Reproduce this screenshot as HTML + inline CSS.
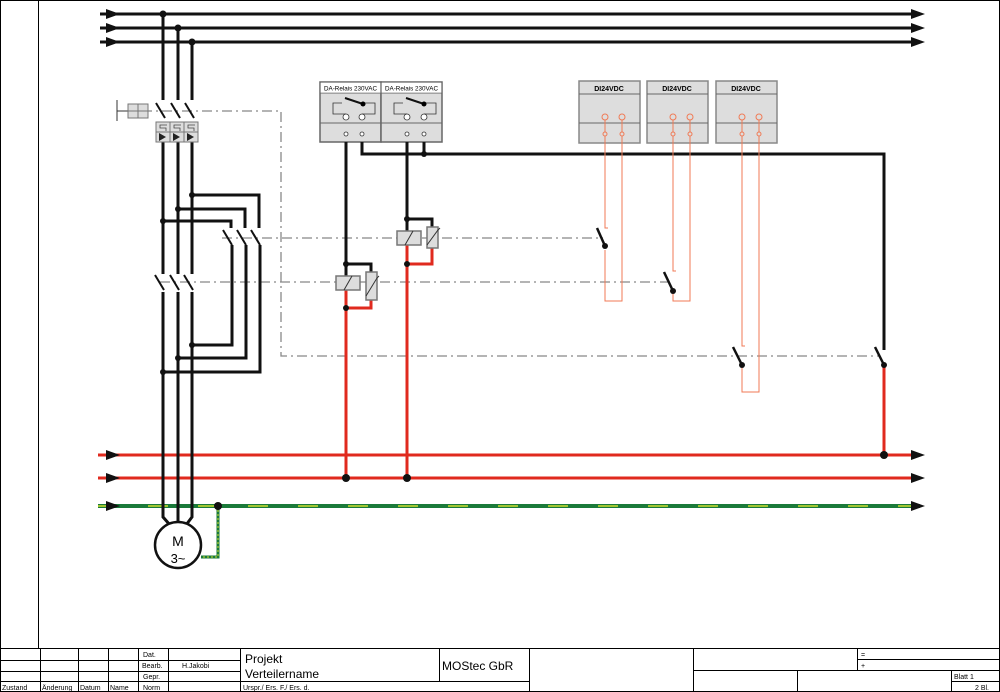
<!DOCTYPE html>
<html><head><meta charset="utf-8"><style>body{margin:0;background:#fff}svg{display:block}text{font-family:"Liberation Sans",sans-serif}</style></head><body>
<svg width="1000" height="692" viewBox="0 0 1000 692" xmlns="http://www.w3.org/2000/svg">
<rect x="0.5" y="0.5" width="999" height="691" fill="none" stroke="#000"/>
<line x1="38.5" y1="0" x2="38.5" y2="648" stroke="#000"/>
<!-- top buses -->
<g stroke="#111" stroke-width="3">
<line x1="100" y1="14" x2="920" y2="14"/><line x1="100" y1="28" x2="920" y2="28"/><line x1="100" y1="42" x2="920" y2="42"/>
</g>
<g fill="#111">
<polygon points="106,9 120,14 106,19"/><polygon points="106,23 120,28 106,33"/><polygon points="106,37 120,42 106,47"/>
<polygon points="911,9 925,14 911,19"/><polygon points="911,23 925,28 911,33"/><polygon points="911,37 925,42 911,47"/>
<circle cx="163" cy="14" r="3.5"/><circle cx="178" cy="28" r="3.5"/><circle cx="192" cy="42" r="3.5"/>
</g>
<!-- red/green buses -->
<line x1="98" y1="455" x2="920" y2="455" stroke="#e02a1e" stroke-width="3"/>
<line x1="98" y1="478" x2="920" y2="478" stroke="#e02a1e" stroke-width="3"/>
<line x1="98" y1="506" x2="920" y2="506" stroke="#1a7a3a" stroke-width="4"/>
<line x1="98" y1="506" x2="920" y2="506" stroke="#cde030" stroke-width="1.5" stroke-dasharray="20 30"/>
<g fill="#111">
<polygon points="106,450 120,455 106,460"/><polygon points="106,473 120,478 106,483"/><polygon points="106,501 120,506 106,511"/>
<polygon points="911,450 925,455 911,460"/><polygon points="911,473 925,478 911,483"/><polygon points="911,501 925,506 911,511"/>
</g>
<!-- dashed mechanical links -->
<g stroke="#888" stroke-width="1.3" fill="none" stroke-dasharray="10 4 2 4">
<polyline points="142,111 281,111 281,356 880,356"/>
<line x1="222" y1="238" x2="603" y2="238"/>
<line x1="160" y1="282" x2="668" y2="282"/>
</g>
<!-- main vertical lines -->
<g stroke="#111" stroke-width="3" fill="none">
<line x1="163" y1="14" x2="163" y2="100"/><line x1="178" y1="28" x2="178" y2="100"/><line x1="192" y1="42" x2="192" y2="100"/>
<line x1="163" y1="142" x2="163" y2="274"/><line x1="178" y1="142" x2="178" y2="274"/><line x1="192" y1="142" x2="192" y2="274"/>
<polyline points="163,292 163,517 170,525"/><line x1="178" y1="292" x2="178" y2="522"/><polyline points="192,292 192,517 186,525"/>
<polyline points="192,195 259,195 259,228"/><polyline points="178,209 245,209 245,228"/><polyline points="163,221 231,221 231,228"/>
<polyline points="232,245 232,345 192,345"/><polyline points="246,245 246,358 178,358"/><polyline points="260,245 260,372 163,372"/>
</g>
<g stroke="#111" stroke-width="2">
<line x1="156" y1="103" x2="165" y2="118"/><line x1="171" y1="103" x2="180" y2="118"/><line x1="185" y1="103" x2="194" y2="118"/>
<line x1="155" y1="275" x2="164" y2="290"/><line x1="170" y1="275" x2="179" y2="290"/><line x1="184" y1="275" x2="193" y2="290"/>
<line x1="223" y1="230" x2="232" y2="245"/><line x1="237" y1="230" x2="246" y2="245"/><line x1="251" y1="230" x2="260" y2="245"/>
</g>
<!-- breaker handle -->
<line x1="117" y1="100" x2="117" y2="121" stroke="#333"/><line x1="117" y1="111" x2="128" y2="111" stroke="#333"/>
<rect x="128" y="104" width="20" height="14" fill="#ddd" stroke="#777"/><line x1="138" y1="104" x2="138" y2="118" stroke="#777"/><line x1="128" y1="111" x2="148" y2="111" stroke="#777"/>
<g fill="#ddd" stroke="#777">
<rect x="156" y="122" width="14" height="20"/><rect x="170" y="122" width="14" height="20"/><rect x="184" y="122" width="14" height="20"/>
<line x1="156" y1="132" x2="198" y2="132"/>
</g>
<g stroke="#444" fill="none" stroke-width="0.8">
<polyline points="167,125 160,125 160,128 166,128 166,131"/><polyline points="181,125 174,125 174,128 180,128 180,131"/><polyline points="195,125 188,125 188,128 194,128 194,131"/>
</g>
<g fill="#222"><polygon points="159,133 166,137 159,141"/><polygon points="173,133 180,137 173,141"/><polygon points="187,133 194,137 187,141"/></g>
<g fill="#111">
<circle cx="192" cy="195" r="3"/><circle cx="178" cy="209" r="3"/><circle cx="163" cy="221" r="3"/>
<circle cx="192" cy="345" r="3"/><circle cx="178" cy="358" r="3"/><circle cx="163" cy="372" r="3"/>
</g>
<!-- motor -->
<circle cx="178" cy="545" r="23" fill="#fff" stroke="#111" stroke-width="2.5"/>
<text x="178" y="546" font-size="14" text-anchor="middle">M</text>
<text x="178" y="563" font-size="13" text-anchor="middle">3~</text>
<polyline points="218,506 218,557 201,557" fill="none" stroke="#1a7a3a" stroke-width="3"/>
<polyline points="218,506 218,557 201,557" fill="none" stroke="#cde030" stroke-width="1" stroke-dasharray="2 2"/>
<circle cx="218" cy="506" r="4" fill="#111"/>
<!-- relays -->
<g>
<rect x="320" y="82" width="61" height="60" fill="#ddd" stroke="#666" stroke-width="1.5"/>
<rect x="381" y="82" width="61" height="60" fill="#ddd" stroke="#666" stroke-width="1.5"/>
<line x1="320" y1="93" x2="442" y2="93" stroke="#666"/><line x1="320" y1="123" x2="442" y2="123" stroke="#666"/>
<rect x="320.7" y="82.7" width="59.6" height="10" fill="#fff"/><rect x="381.7" y="82.7" width="59.6" height="10" fill="#fff"/>
<text x="350.5" y="90.5" font-size="6.3" text-anchor="middle">DA-Relais 230VAC</text>
<text x="411.5" y="90.5" font-size="6.3" text-anchor="middle">DA-Relais 230VAC</text>
<g stroke="#333" fill="none" stroke-width="0.8">
<polyline points="346,114 333,114 333,103 342,103"/><polyline points="362,114 375,114 375,103 364,103"/>
<polyline points="407,114 394,114 394,103 403,103"/><polyline points="424,114 436,114 436,103 425,103"/>
</g>
<line x1="345" y1="98" x2="363" y2="104" stroke="#111" stroke-width="2"/><circle cx="363" cy="104" r="2.5"/>
<line x1="406" y1="98" x2="424" y2="104" stroke="#111" stroke-width="2"/><circle cx="424" cy="104" r="2.5"/>
<g fill="#fff" stroke="#333" stroke-width="0.8">
<circle cx="346" cy="117" r="3"/><circle cx="362" cy="117" r="3"/><circle cx="407" cy="117" r="3"/><circle cx="424" cy="117" r="3"/>
<circle cx="346" cy="134" r="2"/><circle cx="362" cy="134" r="2"/><circle cx="407" cy="134" r="2"/><circle cx="424" cy="134" r="2"/>
</g>
</g>
<g stroke="#111" stroke-width="3" fill="none">
<polyline points="362,142 362,154 884,154 884,350"/>
<line x1="424" y1="142" x2="424" y2="154"/>
<polyline points="346,142 346,276"/><polyline points="346,264 371,264 371,272"/>
<polyline points="407,142 407,231"/><polyline points="407,219 432,219 432,227"/>
</g>
<g stroke="#e02a1e" stroke-width="3" fill="none">
<line x1="346" y1="290" x2="346" y2="478"/><polyline points="346,308 371,308 371,300"/>
<line x1="407" y1="245" x2="407" y2="478"/><polyline points="407,264 432,264 432,248"/>
<line x1="884" y1="365" x2="884" y2="455"/>
</g>
<g fill="#ddd" stroke="#777" stroke-width="1.5">
<rect x="336" y="276" width="24" height="14"/><rect x="366" y="272" width="11" height="28"/>
<rect x="397" y="231" width="24" height="14"/><rect x="427" y="227" width="11" height="21"/>
</g>
<g stroke="#333" stroke-width="1"><line x1="344" y1="290" x2="352" y2="276"/><line x1="405" y1="245" x2="413" y2="231"/>
<polyline points="366,296 377,278 379,276" fill="none"/><polyline points="427,245 438,230 440,228" fill="none"/></g>
<g fill="#111"><circle cx="346" cy="264" r="3"/><circle cx="346" cy="308" r="3"/><circle cx="407" cy="219" r="3"/><circle cx="407" cy="264" r="3"/><circle cx="424" cy="154" r="3"/>
<circle cx="884" cy="455" r="4"/><circle cx="346" cy="478" r="4"/><circle cx="407" cy="478" r="4"/></g>
<!-- DI boxes -->
<g>
<rect x="579" y="81" width="61" height="62" fill="#ddd" stroke="#888" stroke-width="1.5"/>
<rect x="647" y="81" width="61" height="62" fill="#ddd" stroke="#888" stroke-width="1.5"/>
<rect x="716" y="81" width="61" height="62" fill="#ddd" stroke="#888" stroke-width="1.5"/>
<g stroke="#666"><line x1="579" y1="94" x2="640" y2="94"/><line x1="647" y1="94" x2="708" y2="94"/><line x1="716" y1="94" x2="777" y2="94"/>
<line x1="579" y1="123" x2="640" y2="123"/><line x1="647" y1="123" x2="708" y2="123"/><line x1="716" y1="123" x2="777" y2="123"/></g>
<text x="609" y="91" font-size="7" text-anchor="middle" font-weight="bold">DI24VDC</text>
<text x="677" y="91" font-size="7" text-anchor="middle" font-weight="bold">DI24VDC</text>
<text x="746" y="91" font-size="7" text-anchor="middle" font-weight="bold">DI24VDC</text>
</g>
<g stroke="#f07a55" fill="none" stroke-width="1">
<polyline points="605,120 605,228 608,228"/><polyline points="605,250 605,301 622,301 622,120"/>
<polyline points="673,120 673,271 676,271"/><polyline points="673,293 673,301 690,301 690,120"/>
<polyline points="742,120 742,346 745,346"/><polyline points="742,367 742,392 759,392 759,120"/>
</g>
<g fill="#ddd" stroke="#f07a55" stroke-width="1">
<circle cx="605" cy="117" r="3"/><circle cx="622" cy="117" r="3"/><circle cx="673" cy="117" r="3"/><circle cx="690" cy="117" r="3"/><circle cx="742" cy="117" r="3"/><circle cx="759" cy="117" r="3"/>
<circle cx="605" cy="134" r="2"/><circle cx="622" cy="134" r="2"/><circle cx="673" cy="134" r="2"/><circle cx="690" cy="134" r="2"/><circle cx="742" cy="134" r="2"/><circle cx="759" cy="134" r="2"/>
</g>
<g stroke="#111" stroke-width="2.5">
<line x1="597" y1="228" x2="605" y2="246"/><line x1="664" y1="272" x2="673" y2="291"/><line x1="733" y1="347" x2="742" y2="365"/><line x1="875" y1="347" x2="884" y2="365"/>
</g>
<g fill="#111"><circle cx="605" cy="246" r="3"/><circle cx="673" cy="291" r="3"/><circle cx="742" cy="365" r="3"/><circle cx="884" cy="365" r="3"/></g>
<!-- title block -->
<g stroke="#000" stroke-width="1" fill="none">
<rect x="0.5" y="648.5" width="999" height="43"/>
<line x1="0" y1="660.5" x2="240" y2="660.5"/><line x1="0" y1="671.5" x2="240" y2="671.5"/><line x1="0" y1="681.5" x2="530" y2="681.5"/>
<line x1="40.5" y1="648" x2="40.5" y2="692"/><line x1="78.5" y1="648" x2="78.5" y2="692"/><line x1="108.5" y1="648" x2="108.5" y2="692"/><line x1="138.5" y1="648" x2="138.5" y2="692"/><line x1="168.5" y1="648" x2="168.5" y2="692"/>
<line x1="240.5" y1="648" x2="240.5" y2="692"/><line x1="439.5" y1="648" x2="439.5" y2="681"/><line x1="529.5" y1="648" x2="529.5" y2="692"/><line x1="693.5" y1="648" x2="693.5" y2="692"/>
<line x1="857.5" y1="648" x2="857.5" y2="670"/><line x1="857" y1="659.5" x2="1000" y2="659.5"/><line x1="693" y1="670.5" x2="1000" y2="670.5"/>
<line x1="797.5" y1="670" x2="797.5" y2="692"/><line x1="951.5" y1="670" x2="951.5" y2="692"/><line x1="951" y1="681.5" x2="1000" y2="681.5"/>
</g>
<g font-size="7">
<text x="143" y="657">Dat.</text><text x="142" y="668">Bearb.</text><text x="143" y="679">Gepr.</text><text x="143" y="690">Norm</text>
<text x="182" y="668">H.Jakobi</text>
<text x="2" y="690">Zustand</text><text x="42" y="690">Änderung</text><text x="80" y="690">Datum</text><text x="110" y="690">Name</text>
<text x="243" y="690">Urspr./ Ers. F./ Ers. d.</text>
<text x="861" y="657">=</text><text x="861" y="668">+</text>
<text x="954" y="679">Blatt 1</text><text x="975" y="690">2 Bl.</text>
</g>
<text x="245" y="663" font-size="12">Projekt</text>
<text x="245" y="678" font-size="12">Verteilername</text>
<text x="442" y="670" font-size="12">MOStec GbR</text>
</svg>
</body></html>
